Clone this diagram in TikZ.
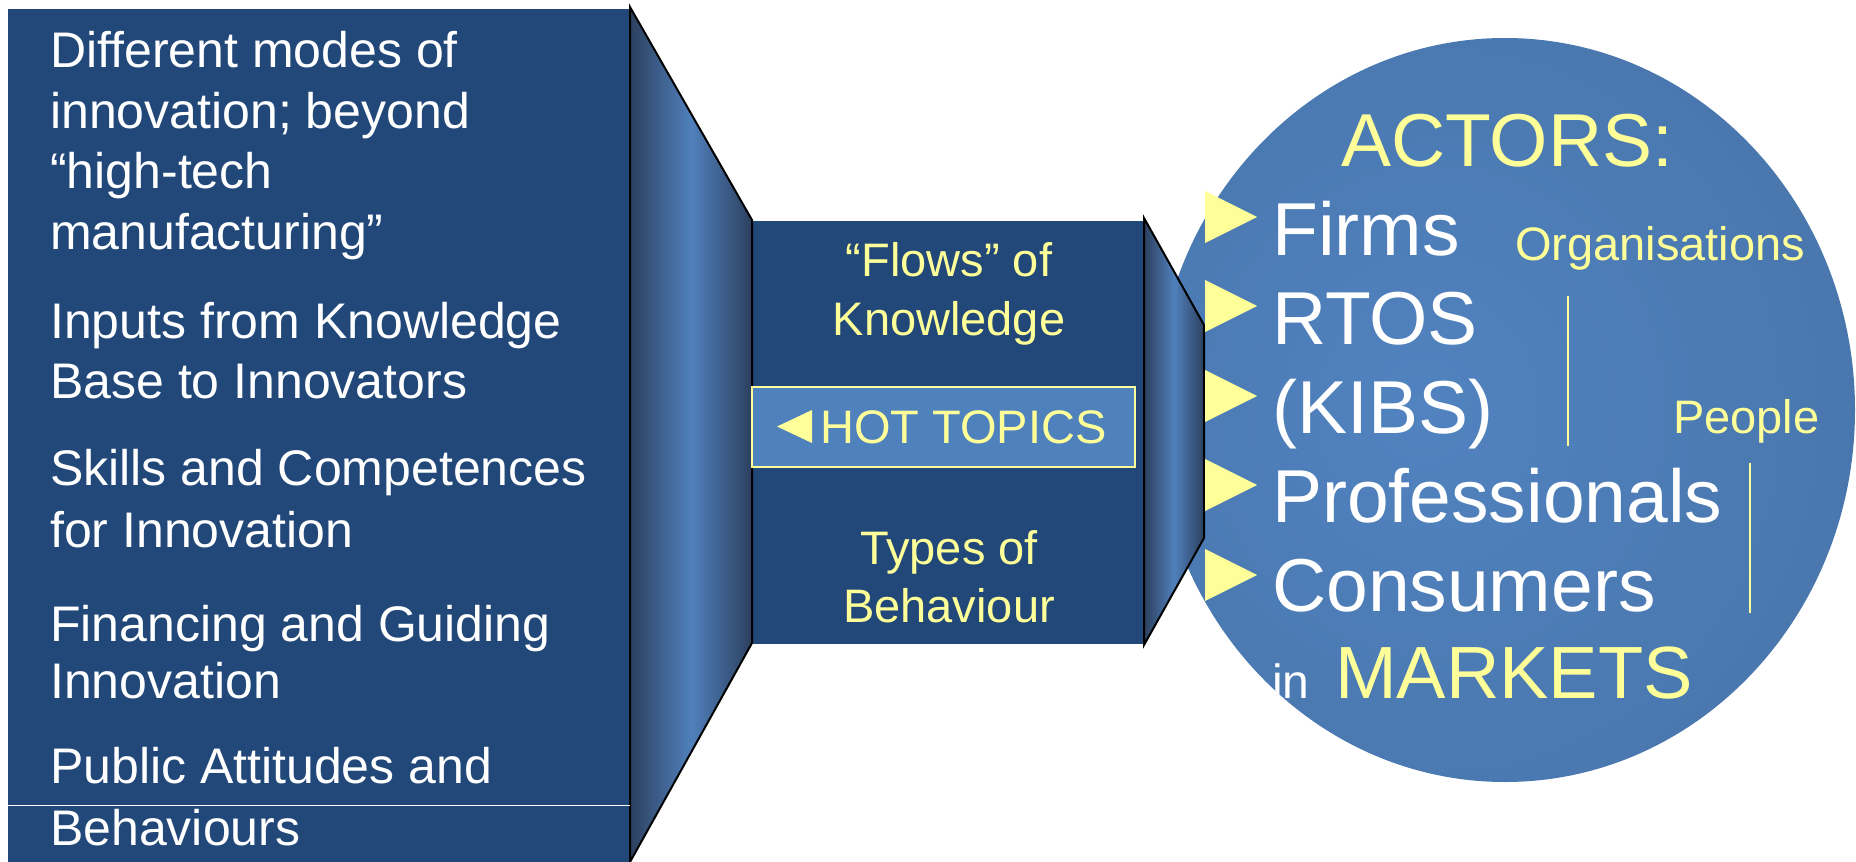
\documentclass[tikz,border=0pt]{standalone}
\usepackage{fontspec}
\setmainfont{Liberation Sans}
\definecolor{boxblue}{RGB}{34,72,121}
\definecolor{hotblue}{RGB}{79,129,189}
\definecolor{ylw}{RGB}{255,255,153}
\definecolor{fdark}{RGB}{44,64,94}
\definecolor{flight}{RGB}{80,128,188}
\definecolor{ellin}{RGB}{81,131,192}
\definecolor{ellout}{RGB}{68,110,161}
\colorlet{ellmid}{ellin!55!ellout}
\pgfdeclareradialshading{ellshade}{\pgfpoint{-6bp}{0bp}}{color(0bp)=(ellin); color(22bp)=(ellmid); color(48bp)=(ellout); color(100bp)=(ellout)}
\begin{document}
\begin{tikzpicture}[x=1pt,y=-1pt,
  lt/.style={anchor=base west, inner sep=0pt, text=white, font=\fontsize{50}{59}\selectfont},
  mt/.style={anchor=base, inner sep=0pt, text=ylw, font=\fontsize{47}{55}\selectfont},
  actor/.style={anchor=base west, inner sep=0pt, text=white, font=\fontsize{75}{90}\selectfont},
  ylbig/.style={anchor=base west, inner sep=0pt, text=ylw, font=\fontsize{74}{90}\selectfont},
  ylsmall/.style={anchor=base west, inner sep=0pt, text=ylw, font=\fontsize{47}{56}\selectfont},
  funnel/.style={left color=fdark, right color=fdark, middle color=flight, draw=black, line width=2pt, line join=miter},
  bullet/.style={fill=ylw},
  divider/.style={draw=ylw, line width=2pt}]
\useasboundingbox (0,0) rectangle (1856,862);
\fill[white] (0,0) rectangle (1856,862);
% ellipse of actors
\path[shading=ellshade] (1505,410) ellipse [x radius=350pt, y radius=372pt];
% boxes
\fill[boxblue] (8,9) rectangle (630,862);
\fill[boxblue] (753,221) rectangle (1144,644);
% funnels
\path[funnel] (630,7) -- (752,220) -- (752,643) -- (630,862) -- cycle;
\path[funnel] (1144,218) -- (1204,325) -- (1204,538) -- (1144,645) -- cycle;
\draw[white, line width=1pt] (8,805) -- (630,805);
% left texts
\node[lt] (l1) at (50,67) {Different modes of};
\node[lt] (l2) at (50,128) {innovation; beyond};
\node[lt] (l3) at (50,188) {“high-tech};
\node[lt] (l4) at (50,249) {manufacturing”};
\node[lt] (l5) at (50,338) {Inputs from Knowledge};
\node[lt] (l6) at (50,398) {Base to Innovators};
\node[lt] (l7) at (50,485) {Skills and Competences};
\node[lt] (l8) at (50,547) {for Innovation};
\node[lt] (l9) at (50,641) {Financing and Guiding};
\node[lt] (l10) at (50,698) {Innovation};
\node[lt] (l11) at (50,783) {Public Attitudes and};
\node[lt] (l12) at (50,845) {Behaviours};
% middle texts
\node[mt] (m1) at (949,276) {“Flows” of};
\node[mt] (m2) at (949,335) {Knowledge};
\node[draw=ylw, fill=hotblue, line width=1.5pt, inner sep=0pt, minimum width=383pt, minimum height=80pt, anchor=north west] (hot) at (751,386) {};
\fill[ylw] (777,426.5) -- (812,410) -- (812,443) -- cycle;
\node[mt, anchor=base west] (hott) at (820,443) {HOT TOPICS};
\node[mt] (m3) at (949,564) {Types of};
\node[mt] (m4) at (949,622) {Behaviour};
% actors
\node[ylbig, anchor=base, font=\fontsize{75}{90}\selectfont] (act) at (1507,166) {ACTORS:};
\foreach \yy in {217,306,396,485,575}
  \fill[bullet] (1205,\yy-26) -- (1257,\yy) -- (1205,\yy+26) -- cycle;
\node[actor] (a1) at (1272,255) {Firms};
\node[actor] (a2) at (1272,344) {RTOS};
\node[actor] (a3) at (1272,433) {(KIBS)};
\node[actor] (a4) at (1272,522) {Professionals};
\node[actor] (a5) at (1272,611) {Consumers};
\node[actor, font=\fontsize{48}{56}\selectfont] (in) at (1272,698) {in};
\node[ylbig] (mk) at (1335,698) {MARKETS};
\node[ylsmall] (org) at (1515,260) {Organisations};
\node[ylsmall] (ppl) at (1673,433) {People};
\draw[divider] (1568,296) -- (1568,446);
\draw[divider] (1750,463) -- (1750,613);
\end{tikzpicture}
\end{document}
